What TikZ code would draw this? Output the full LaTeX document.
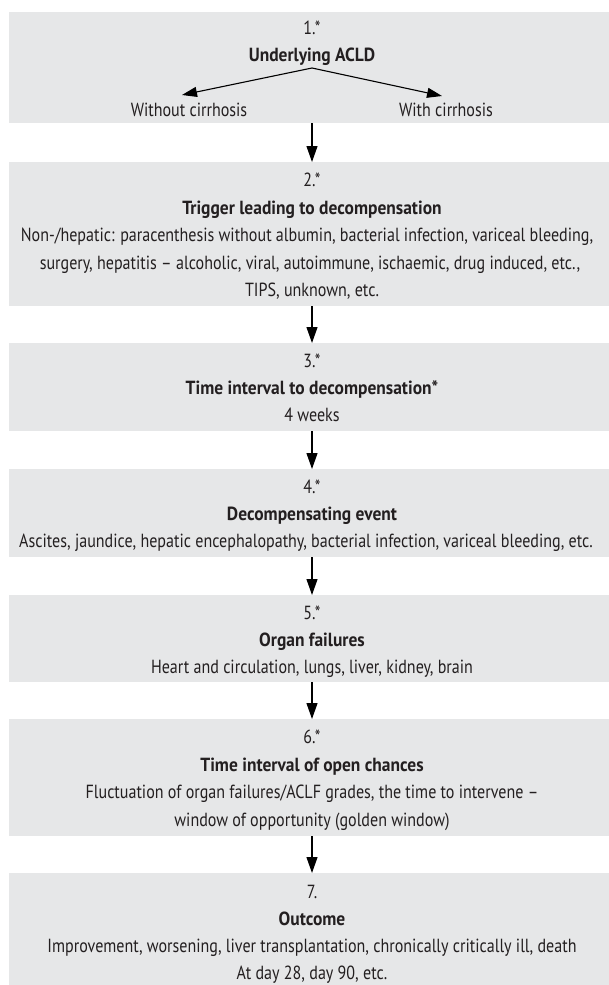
\documentclass[tikz,border=0pt]{standalone}
\usepackage{fontspec}
\newfontfamily\probefont{PT Sans}
\setbox0=\hbox{\probefont\fontsize{19}{23}\selectfont Improvement, worsening, liver transplantation, chronically critically ill, death}
\setbox2=\hbox{\probefont\fontsize{19}{23}\selectfont\bfseries Decompensating event}
\edef\regst{\fpeval{round(529pt/\the\wd0,3)}}
\edef\bldst{\fpeval{round(170pt/\the\wd2,3)}}
\edef\tmpa{\noexpand\setmainfont[FakeStretch=\regst]{PT Sans}}\tmpa
\edef\tmpb{\noexpand\newfontfamily\noexpand\hdfont[FakeStretch=\bldst]{PT Sans}}\tmpb
\usetikzlibrary{arrows.meta}
\definecolor{boxgray}{HTML}{E6E7E8}
\definecolor{ink}{HTML}{231F20}
\begin{document}
\begin{tikzpicture}[x=1pt,y=-1pt,
  box/.style={fill=boxgray, draw=none, minimum width=606pt, inner sep=0pt, anchor=north},
  txt/.style={text=ink, inner sep=0pt, anchor=base, font=\fontsize{19}{23}\selectfont},
  btxt/.style={text=ink, inner sep=0pt, anchor=base, font=\fontsize{19}{23}\selectfont\hdfont\bfseries},
  arr/.style={draw=black, line width=1.2pt, -{Triangle[length=16pt,width=11pt]}},
  darr/.style={draw=black, line width=1.1pt, -{Triangle[length=15pt,width=10pt]}}]
\useasboundingbox (0,0) rectangle (608,985);
% boxes
\node[box, minimum height=111pt] (b1) at (312,12) {};
\node[box, minimum height=144pt] (b2) at (312,162) {};
\node[box, minimum height=88pt] (b3) at (312,343) {};
\node[box, minimum height=88pt] (b4) at (312,469) {};
\node[box, minimum height=87pt] (b5) at (312,595) {};
\node[box, minimum height=117pt] (b6) at (312,719) {};
\node[box, minimum height=125pt] (b7) at (312,873) {};
% box 1
\node[txt] (n1) at (312,34.5) {1.*};
\node[btxt] (h1) at (312,61.5) {Underlying ACLD};
\node[txt] (wo) at (189,116.5) {Without cirrhosis};
\node[txt] (wi) at (446,116.5) {With cirrhosis};
\coordinate (apex) at (312,68);
\coordinate (tipL) at (182,95);
\coordinate (tipR) at (442,96);
\draw[darr] (apex) -- (tipL);
\draw[darr] (apex) -- (tipR);
% box 2
\node[txt] (n2) at (312,186.5) {2.*};
\node[btxt] (h2) at (312,214) {Trigger leading to decompensation};
\node[txt] (l2a) at (307,241.5) {Non-/hepatic: paracenthesis without albumin, bacterial infection, variceal bleeding,};
\node[txt] (l2b) at (310,269) {surgery, hepatitis -- alcoholic, viral, autoimmune, ischaemic, drug induced, etc.,};
\node[txt] (l2c) at (312,296.5) {TIPS, unknown, etc.};
% box 3
\node[txt] (n3) at (312,367.5) {3.*};
\node[btxt] (h3) at (312,394.5) {Time interval to decompensation*};
\node[txt] (l3a) at (312,421.5) {4 weeks};
% box 4
\node[txt] (n4) at (312,493.5) {4.*};
\node[btxt] (h4) at (312,520.5) {Decompensating event};
\node[txt] (l4a) at (306,547.5) {Ascites, jaundice, hepatic encephalopathy, bacterial infection, variceal bleeding, etc.};
% box 5
\node[txt] (n5) at (312,619.5) {5.*};
\node[btxt] (h5) at (312,646.5) {Organ failures};
\node[txt] (l5a) at (312,673.5) {Heart and circulation, lungs, liver, kidney, brain};
% box 6
\node[txt] (n6) at (312,743.5) {6.*};
\node[btxt] (h6) at (312,771.5) {Time interval of open chances};
\node[txt] (l6a) at (312,798.5) {Fluctuation of organ failures/ACLF grades, the time to intervene --};
\node[txt] (l6b) at (312,826) {window of opportunity (golden window)};
% box 7
\node[txt] (n7) at (312,898.5) {7.};
\node[btxt] (h7) at (312,925.5) {Outcome};
\node[txt] (l7a) at (312,952.5) {Improvement, worsening, liver transplantation, chronically critically ill, death};
\node[txt] (l7b) at (312,979) {At day 28, day 90, etc.};
% connectors
\draw[arr] (b1.south) -- (b2.north);
\draw[arr] (b2.south) -- (b3.north);
\draw[arr] (b3.south) -- (b4.north);
\draw[arr] (b4.south) -- (b5.north);
\draw[arr] (b5.south) -- (b6.north);
\draw[arr] (b6.south) -- (b7.north);
\end{tikzpicture}
\end{document}
